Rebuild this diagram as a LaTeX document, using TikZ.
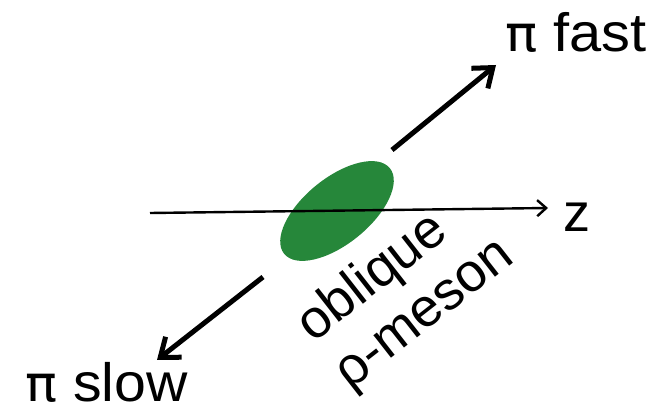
\documentclass[tikz,border=0pt]{standalone}
\usepackage{fontspec}
\setmainfont{Liberation Sans}
\newfontfamily\pifont{DejaVu Sans}
\usetikzlibrary{arrows.meta}
\definecolor{mesongreen}{RGB}{38,135,58}
\begin{document}
\begin{tikzpicture}[x=1pt,y=-1pt,
  lbl/.style={inner sep=0pt,font=\fontsize{54}{60}\selectfont},
  pion/.style={line width=5pt,draw=black,-{Straight Barb[length=17pt,width=26pt,line width=5pt]}},
  axis/.style={line width=2.4pt,draw=black,-{Straight Barb[length=9pt,width=16pt,line width=2.4pt]}}]
\useasboundingbox (0,0) rectangle (657,406);
\fill[mesongreen,rotate around={39:(337,211)}] (337,211) ellipse[x radius=68,y radius=33];
\coordinate (meson) at (337,211);
\coordinate (zs) at (150,213);
\coordinate (ze) at (548,208);
\draw[axis] (zs) -- (ze);
\coordinate (fs) at (392,150);
\coordinate (fe) at (496,65);
\draw[pion] (fs) -- (fe);
\coordinate (ss) at (263,277);
\coordinate (se) at (157,360);
\draw[pion] (ss) -- (se);
\node[lbl,anchor=base west,xscale=1.07,transform shape] (fast) at (505,52) {{\pifont\fontsize{50}{60}\selectfont π} fast};
\node[lbl,anchor=base west,xscale=1.06,transform shape] (slow) at (25,402) {{\pifont\fontsize{50}{60}\selectfont π} slow};
\node[lbl,anchor=base west] (z) at (563,232) {z};
\node[lbl,rotate=38,align=left] (label) at (406,291) {oblique\\ρ-meson};
\end{tikzpicture}
\end{document}
